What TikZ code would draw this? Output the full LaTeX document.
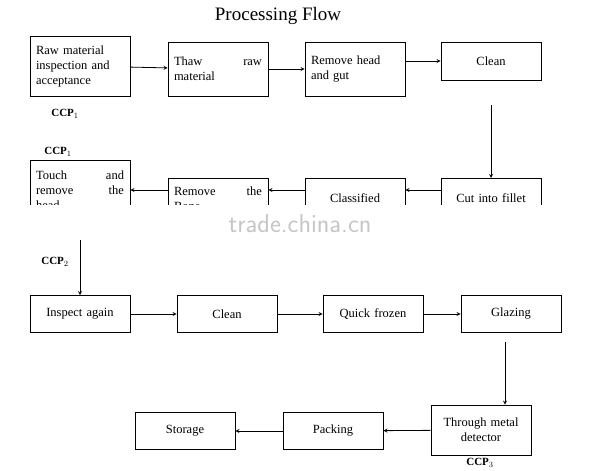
\documentclass[tikz,border=0pt]{standalone}
\usepackage{fontspec}
\setmainfont{Liberation Serif}
\begin{document}
\begin{tikzpicture}[x=1pt,y=-1pt,
  stage/.style={draw,thick,minimum width=100pt,align=left,text width=88pt,font=\fontsize{12.5}{15}\selectfont},
  ccp/.style={font=\fontsize{11}{13}\selectfont\bfseries},
  flow/.style={->,>=stealth,thick}]
\useasboundingbox (0,0) rectangle (600,471);
\node[font=\fontsize{19}{21}\selectfont] (title) at (278,16) {Processing Flow};
% row 1
\node[stage,minimum height=60pt] (raw) at (80,66) {Raw material\\ inspection and\\ acceptance};
\node[ccp] (c1a) at (65,114) {CCP$_1$};
\node[stage,minimum height=54pt] (thaw) at (218,69) {Thaw\hfill raw\\ material};
\node[stage,minimum height=54pt] (head) at (355,69) {Remove head\\ and gut};
\node[stage,minimum height=38pt,align=center] (clean1) at (491,61) {Clean};
\draw[flow] (raw) -- (thaw);
\draw[flow] (thaw) -- (head);
\draw[flow] (head.east|-clean1) -- (clean1);
% row 2
\node[ccp] (c1b) at (58,152) {CCP$_1$};
\node[stage,minimum height=60pt,anchor=north] (touch) at (80,160) {Touch\hfill and\\ remove\hfill the\\ head};
\node[stage,minimum height=40pt,anchor=north] (rem) at (218,178) {Remove\hfill the\\ Bone};
\node[stage,minimum height=40pt,anchor=north,align=center] (cls) at (355,178) {Classified};
\node[stage,minimum height=40pt,anchor=north,align=center] (cut) at (491,178) {Cut into fillet};
\draw[flow] (clean1.south|-0,105) -- (cut);
\draw[flow] (cut.west|-0,190) -- (cls.east|-0,190);
\draw[flow] (cls.west|-0,190) -- (rem.east|-0,190);
\draw[flow] (rem.west|-0,190) -- (touch.east|-0,190);
% watermark band
\fill[white] (0,205) rectangle (600,240);
\node[gray!45,font=\fontsize{26}{28}\selectfont\sffamily] (mark) at (300,224) {trade.china.cn};
% row 3
\node[ccp] (c2) at (55,262) {CCP$_2$};
\node[stage,minimum height=37pt,align=center] (insp) at (80,314) {Inspect again};
\node[stage,minimum height=37pt,align=center] (clean2) at (227,314) {Clean};
\node[stage,minimum height=37pt,align=center] (frozen) at (373,314) {Quick frozen};
\node[stage,minimum height=37pt,align=center] (glaze) at (511,314) {Glazing};
\coordinate (down2) at (80,240);
\draw[flow] (down2) -- (insp);
\draw[flow] (insp) -- (clean2);
\draw[flow] (clean2) -- (frozen);
\draw[flow] (frozen) -- (glaze);
% row 4
\node[stage,minimum height=50pt,align=center] (metal) at (481,430) {Through metal\\ detector};
\node[ccp] (c3) at (480,463) {CCP$_3$};
\node[stage,minimum height=37pt,align=center] (pack) at (333,431) {Packing};
\node[stage,minimum height=37pt,align=center] (store) at (185,431) {Storage};
\coordinate (down3) at (505,342);
\draw[flow] (down3) -- (metal.north-|down3);
\draw[flow] (metal) -- (pack);
\draw[flow] (pack) -- (store);
\end{tikzpicture}
\end{document}
